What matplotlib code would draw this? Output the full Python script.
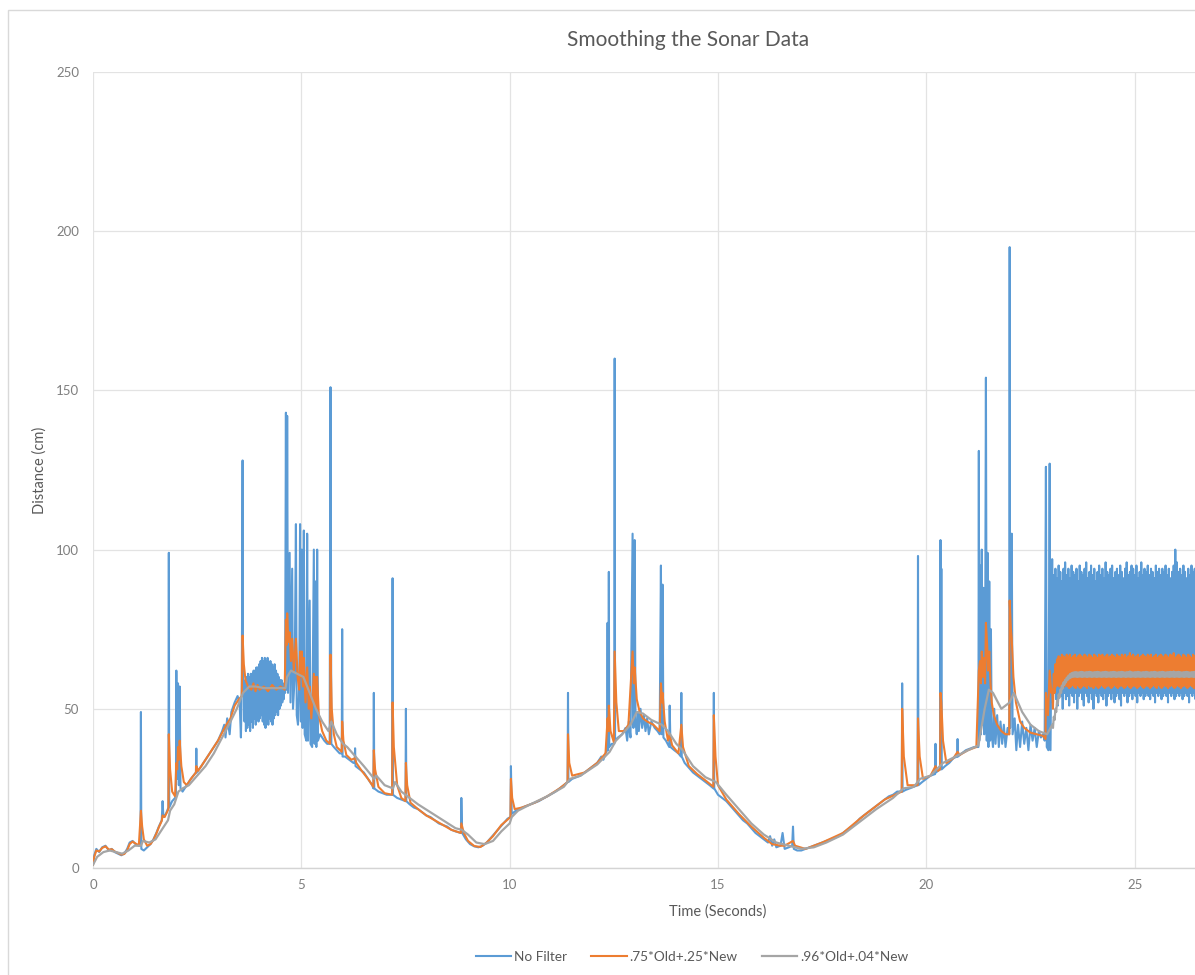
import numpy as np
import matplotlib.pyplot as plt
from matplotlib.patches import Rectangle

plt.rcParams['font.family'] = ['Lato', 'DejaVu Sans']

# ---- values: (time in s, distance in cm) ----
series_names = ['No Filter', '.75*Old+.25*New', '.96*Old+.04*New']

# raw sonar, start up to the first plateau
raw_early = [
    (0.00, 1), (0.03, 4), (0.08, 6), (0.15, 5), (0.22, 6.5), (0.30, 7), (0.38, 5.5),
    (0.45, 6), (0.52, 5), (0.60, 4.5), (0.68, 4), (0.75, 4.5), (0.82, 6), (0.88, 8),
    (0.95, 8.5), (1.02, 7.5), (1.10, 7), (1.14, 7), (1.15, 49), (1.16, 6), (1.22, 5.5),
    (1.30, 6.5), (1.38, 7.5), (1.45, 9), (1.52, 11), (1.58, 13), (1.65, 15), (1.67, 21),
    (1.69, 16), (1.75, 17), (1.81, 19), (1.82, 99), (1.83, 19), (1.90, 21), (1.97, 22),
    (1.99, 23), (2.00, 62), (2.02, 28), (2.04, 58), (2.06, 26), (2.08, 57), (2.10, 25),
    (2.15, 24), (2.25, 26), (2.35, 28), (2.47, 30), (2.48, 37.5), (2.49, 30), (2.60, 32),
    (2.70, 34), (2.80, 36), (2.90, 38), (3.00, 40), (3.10, 43), (3.15, 45), (3.18, 41),
    (3.22, 47), (3.28, 42), (3.32, 49), (3.40, 52), (3.47, 54), (3.52, 52), (3.55, 41),
    (3.57, 56), (3.58, 87), (3.59, 128), (3.60, 58),
]

# raw sonar wobble on the plateau, 3.62 s to 4.61 s, one value per sample
raw_plateau = [58, 46, 59, 43, 60, 44, 61, 45, 60, 43, 61, 46, 61, 44, 62, 47, 62, 45, 63, 48,
               63, 46, 64, 47, 65, 48, 66, 46, 65, 45, 66, 44, 65, 46, 66, 45, 64, 47, 65, 46,
               64, 45, 63, 47, 64, 48, 62, 49, 61, 48, 60, 50, 59, 51, 59, 52, 58, 53, 57, 55]

raw_mid = [
    (4.63, 143), (4.645, 56), (4.66, 142), (4.68, 55), (4.72, 99), (4.74, 52), (4.78, 94),
    (4.80, 50), (4.84, 60), (4.87, 108), (4.89, 48), (4.92, 45), (4.95, 58), (4.97, 108),
    (4.99, 46), (5.01, 100), (5.03, 44), (5.06, 106), (5.08, 42), (5.12, 40), (5.14, 105),
    (5.16, 40), (5.20, 84), (5.22, 39), (5.26, 38), (5.30, 100), (5.32, 39), (5.34, 90),
    (5.36, 38), (5.38, 100), (5.40, 40), (5.45, 42), (5.50, 41), (5.55, 40), (5.62, 39),
    (5.68, 39), (5.70, 151), (5.72, 39), (5.78, 38), (5.85, 37), (5.92, 36), (5.97, 36),
    (5.98, 75), (5.99, 35), (6.05, 35), (6.15, 34), (6.25, 33), (6.28, 33), (6.29, 37.6),
    (6.30, 32), (6.40, 31), (6.50, 30), (6.60, 28), (6.70, 26), (6.73, 25), (6.74, 55),
    (6.75, 25), (6.85, 24), (6.95, 23.5), (7.05, 23), (7.18, 23), (7.19, 91), (7.20, 23),
    (7.30, 22), (7.40, 21.5), (7.50, 21), (7.51, 50), (7.52, 21), (7.60, 20), (7.70, 19),
    (7.80, 18.5), (7.90, 17.5), (8.00, 16.5), (8.10, 16), (8.20, 15), (8.30, 14),
    (8.40, 13.5), (8.50, 13), (8.60, 12), (8.70, 11.5), (8.83, 11), (8.84, 22), (8.86, 11),
    (8.95, 9), (9.05, 7.5), (9.15, 6.8), (9.25, 6.5), (9.35, 7), (9.45, 8), (9.55, 9.5),
    (9.65, 11), (9.75, 12.5), (9.85, 14), (9.95, 15.5), (10.02, 16), (10.03, 32),
    (10.05, 17), (10.15, 18), (10.30, 19), (10.50, 20), (10.70, 21), (10.90, 22.5),
    (11.10, 24), (11.30, 26), (11.39, 27), (11.40, 55), (11.41, 27), (11.50, 28),
    (11.70, 29), (11.90, 31), (12.10, 33), (12.20, 35), (12.25, 34), (12.30, 36),
    (12.34, 37), (12.35, 77), (12.36, 37), (12.37, 38), (12.38, 93), (12.39, 38),
    (12.45, 39), (12.51, 39), (12.52, 160), (12.53, 40), (12.60, 41), (12.70, 42),
    (12.78, 44), (12.82, 40), (12.86, 46), (12.90, 41), (12.95, 105), (12.97, 44),
    (13.00, 103), (13.02, 46), (13.05, 42), (13.08, 49), (13.10, 43), (13.14, 50),
    (13.18, 44), (13.22, 48), (13.26, 43), (13.30, 47), (13.34, 42), (13.40, 46),
    (13.48, 44), (13.55, 43), (13.60, 42), (13.63, 95), (13.65, 42), (13.67, 89),
    (13.69, 41), (13.75, 40), (13.83, 38), (13.84, 51), (13.86, 38), (13.95, 37),
    (14.05, 36), (14.11, 35), (14.12, 55), (14.13, 35), (14.20, 33), (14.30, 31.5),
    (14.40, 30), (14.50, 29), (14.60, 28), (14.70, 27), (14.80, 26), (14.89, 25),
    (14.90, 55), (14.91, 25), (15.00, 23), (15.10, 22), (15.20, 21), (15.30, 19.5),
    (15.40, 18), (15.50, 16.5), (15.60, 15), (15.70, 14), (15.80, 12.5), (15.90, 11),
    (16.00, 10), (16.10, 9), (16.20, 8), (16.25, 10), (16.30, 7), (16.35, 9), (16.40, 6.5),
    (16.50, 7), (16.55, 11), (16.60, 6), (16.70, 6.5), (16.78, 7), (16.80, 13), (16.82, 6),
    (16.90, 5.5), (17.00, 5.5), (17.10, 6), (17.20, 6.5), (17.30, 7), (17.40, 7.5),
    (17.50, 8), (17.60, 8.5), (17.70, 9), (17.80, 9.5), (17.90, 10), (18.00, 11),
    (18.10, 12), (18.20, 13), (18.30, 14), (18.40, 15.5), (18.50, 16.5), (18.60, 17.5),
    (18.70, 18.5), (18.80, 19.5), (18.90, 20.5), (19.00, 21.5), (19.10, 22.5), (19.20, 23),
    (19.30, 24), (19.41, 24), (19.42, 58), (19.43, 24), (19.50, 24.5), (19.60, 25),
    (19.79, 26), (19.80, 98), (19.81, 26), (19.90, 27), (20.00, 28), (20.10, 29),
    (20.21, 29.5), (20.22, 39), (20.23, 30), (20.33, 31), (20.34, 103), (20.35, 31),
    (20.36, 94), (20.37, 31), (20.45, 32), (20.55, 33), (20.65, 34.5), (20.74, 35),
    (20.75, 40.5), (20.76, 35), (20.85, 36), (20.95, 37), (21.05, 37.5), (21.15, 38),
    (21.25, 38), (21.26, 131), (21.27, 40), (21.29, 95), (21.31, 42), (21.33, 100),
    (21.35, 45), (21.37, 88), (21.39, 42), (21.41, 60), (21.43, 154), (21.45, 40),
    (21.47, 99), (21.49, 38), (21.51, 90), (21.53, 40), (21.55, 75), (21.57, 42),
    (21.60, 38), (21.63, 50), (21.66, 39), (21.70, 48), (21.74, 38), (21.78, 46),
    (21.82, 39), (21.86, 45), (21.90, 38), (21.95, 44), (21.99, 42), (22.00, 195),
    (22.01, 44), (22.03, 90), (22.05, 105), (22.07, 42), (22.12, 47), (22.16, 37),
    (22.20, 45), (22.25, 38), (22.30, 46), (22.35, 39), (22.40, 44), (22.45, 37),
    (22.50, 45), (22.55, 40), (22.60, 44), (22.65, 38), (22.70, 43), (22.75, 41),
    (22.80, 42), (22.84, 40), (22.87, 126), (22.89, 38), (22.93, 37), (22.96, 127),
    (22.98, 37),
]

# raw sonar after 23 s: alternating high / low readings
raw_tail_hi = [97, 92, 94, 91, 95, 93, 90, 94, 96, 92,
               94, 91, 95, 93, 92, 94, 90, 95, 93, 92,
               94, 96, 91, 93, 95, 92, 94, 90, 93, 95,
               92, 94, 91, 96, 93, 92, 94, 95, 91, 93,
               94, 92, 95, 93, 91, 94, 96, 92, 93, 95,
               94, 92, 95, 91, 93, 96, 92, 94, 93, 95,
               92, 94, 93, 91, 95, 93, 94, 92, 94, 93,
               95, 92, 94, 91, 93, 95, 100, 96, 93, 94,
               92, 95, 93, 91, 94, 92, 95, 93, 94, 92]
raw_tail_lo = [52, 55, 53, 51, 55, 54, 50, 55, 53, 54,
               51, 55, 54, 52, 55, 50, 54, 55, 53, 51,
               55, 54, 52, 55, 53, 50, 55, 54, 52, 55,
               54, 53, 55, 51, 54, 55, 53, 55, 52, 54,
               55, 53, 51, 55, 54, 55, 52, 54, 55, 53,
               55, 54, 52, 55, 54, 55, 53, 54, 55, 54,
               53, 55, 54, 52, 55, 54, 55, 53, 54, 55,
               54, 52, 55, 54, 55, 53, 54, 55, 54, 55,
               53, 54, 55, 54, 52, 55, 54, 55, 53, 54]

# .75*Old + .25*New
fast_points = [
    (0.00, 1), (0.03, 3.5), (0.08, 5.5), (0.15, 5.2), (0.22, 6.3), (0.30, 6.8), (0.38, 5.8),
    (0.45, 5.9), (0.52, 5.2), (0.60, 4.7), (0.68, 4.2), (0.75, 4.4), (0.82, 5.5), (0.88, 7.5),
    (0.95, 8.3), (1.02, 7.7), (1.10, 7.1), (1.15, 18), (1.18, 13), (1.22, 9), (1.30, 7),
    (1.38, 7.5), (1.45, 8.8), (1.52, 10.8), (1.58, 12.8), (1.65, 14.8), (1.67, 16.5),
    (1.72, 16), (1.81, 18.5), (1.82, 42), (1.85, 31), (1.90, 24), (1.97, 22.5), (2.00, 33),
    (2.02, 31), (2.04, 38), (2.06, 34), (2.08, 40), (2.12, 32), (2.18, 27), (2.25, 26),
    (2.35, 28), (2.47, 30), (2.48, 32), (2.52, 30.5), (2.60, 32), (2.70, 34), (2.80, 36),
    (2.90, 38), (3.00, 40), (3.10, 42.5), (3.20, 45), (3.30, 47), (3.40, 51), (3.50, 53),
    (3.57, 54), (3.59, 73), (3.62, 64), (3.66, 59), (3.72, 57), (3.80, 56), (3.85, 58),
    (3.90, 55.5), (3.95, 57.5), (4.00, 56), (4.10, 57), (4.20, 55.5), (4.30, 57.5),
    (4.40, 56), (4.50, 57), (4.60, 56), (4.63, 78), (4.645, 70), (4.66, 80), (4.69, 71),
    (4.72, 74), (4.75, 65), (4.78, 72), (4.82, 62), (4.87, 72), (4.91, 60), (4.95, 56),
    (4.97, 68), (5.00, 60), (5.01, 68), (5.04, 57), (5.06, 66), (5.10, 52), (5.14, 63),
    (5.18, 50), (5.20, 57), (5.24, 47), (5.30, 61), (5.32, 52), (5.34, 60), (5.36, 50),
    (5.38, 60), (5.42, 48), (5.50, 43), (5.60, 40), (5.69, 39), (5.70, 67), (5.73, 50),
    (5.78, 42), (5.85, 38), (5.97, 36.5), (5.98, 46), (6.01, 40), (6.08, 35.5), (6.20, 34),
    (6.29, 34.5), (6.32, 33), (6.45, 30.5), (6.60, 28), (6.73, 25.5), (6.74, 37), (6.77, 31),
    (6.85, 25.5), (7.00, 23.5), (7.18, 23), (7.19, 52), (7.22, 38), (7.30, 26), (7.40, 22),
    (7.50, 21), (7.51, 33), (7.54, 26), (7.62, 20.5), (7.80, 18.5), (8.00, 16.5), (8.20, 15),
    (8.40, 13.5), (8.60, 12), (8.83, 11), (8.84, 14), (8.90, 11), (9.00, 8.5), (9.15, 6.9),
    (9.30, 6.6), (9.45, 8), (9.60, 10), (9.80, 13.5), (10.02, 16), (10.03, 28), (10.06, 22),
    (10.12, 18.5), (10.30, 19), (10.60, 20.5), (10.90, 22.5), (11.20, 25), (11.39, 27),
    (11.40, 42), (11.43, 33), (11.50, 29), (11.80, 30), (12.10, 33), (12.30, 36),
    (12.35, 47), (12.37, 43), (12.38, 51), (12.42, 43), (12.50, 39.5), (12.52, 68),
    (12.56, 52), (12.62, 43), (12.75, 43), (12.85, 45), (12.95, 68), (12.98, 58),
    (13.00, 63), (13.05, 53), (13.12, 49), (13.20, 47), (13.30, 46), (13.45, 45),
    (13.60, 43), (13.63, 58), (13.66, 52), (13.67, 55), (13.72, 46), (13.80, 40),
    (13.84, 42), (13.90, 38.5), (14.05, 36), (14.12, 45), (14.16, 38), (14.30, 32),
    (14.50, 29.5), (14.70, 27.5), (14.89, 25.5), (14.90, 48), (14.94, 35), (15.00, 26),
    (15.20, 21.5), (15.50, 17), (15.80, 13), (16.10, 9.5), (16.30, 7.5), (16.50, 7),
    (16.60, 7), (16.80, 8.5), (16.85, 7), (17.10, 6), (17.50, 8), (18.00, 11), (18.50, 16.5),
    (19.00, 21.5), (19.41, 24), (19.42, 50), (19.46, 35), (19.55, 26), (19.79, 26),
    (19.80, 47), (19.84, 35), (19.92, 28), (20.10, 29), (20.22, 32), (20.28, 30.5),
    (20.33, 31), (20.34, 55), (20.36, 52), (20.40, 40), (20.48, 33), (20.65, 34.5),
    (20.75, 36.5), (20.80, 35.5), (21.00, 37), (21.20, 38), (21.26, 62), (21.29, 65),
    (21.31, 58), (21.33, 68), (21.36, 60), (21.38, 66), (21.41, 58), (21.43, 77),
    (21.46, 70), (21.48, 62), (21.51, 68), (21.54, 58), (21.57, 52), (21.62, 48),
    (21.70, 45), (21.80, 43), (21.90, 42), (21.99, 42), (22.00, 84), (22.03, 75),
    (22.05, 72), (22.09, 60), (22.15, 52), (22.25, 46), (22.35, 44), (22.50, 42.5),
    (22.65, 42), (22.80, 41.5), (22.86, 40.5), (22.87, 55), (22.92, 48), (22.96, 62),
    (23.00, 55),
]
fast_tail_hi = [56, 61, 64, 65.5, 66.5, 66, 67, 66.5, 66, 67,
                66.5, 67, 66, 66.5, 67, 66, 66.5, 67, 66.5, 66,
                67, 66.5, 66, 67, 66.5, 66, 67, 66.5, 66, 67,
                66.5, 67, 66, 66.5, 67, 66, 66.5, 67, 66.5, 66,
                67, 66.5, 66, 67, 66.5, 67, 66, 66.5, 67.5, 66.5,
                67, 66, 66.5, 67, 66, 66.5, 67, 66.5, 66, 67,
                66.5, 67, 66, 66.5, 67, 66, 66.5, 67, 66.5, 66,
                67, 66.5, 66, 67, 66.5, 67.5, 66, 66.5, 67, 66.5,
                66, 67, 66.5, 66, 67, 66.5, 66, 67, 66.5, 66]
fast_tail_lo = [50, 55, 57, 57.5, 57, 57.5, 56.5, 57, 57.5, 57,
                56.5, 57, 57.5, 57, 56.5, 57.5, 57, 56.5, 57, 57.5,
                57, 56.5, 57.5, 57, 57, 56.5, 57.5, 57, 56.5, 57,
                57.5, 57, 56.5, 57, 57.5, 57, 56.5, 57, 57.5, 57,
                56.5, 57, 57.5, 57, 56.5, 57, 57.5, 57, 56.5, 57,
                57.5, 57, 56.5, 57, 57.5, 57, 56.5, 57, 57.5, 57,
                56.5, 57, 57.5, 57, 56.5, 57.5, 57, 56.5, 57, 57.5,
                57, 56.5, 57, 57.5, 57, 56.5, 57, 57.5, 57, 56.5,
                57, 57.5, 57, 56.5, 57, 57.5, 57, 56.5, 57, 57.5]

# .96*Old + .04*New
slow_points = [
    (0.00, 1), (0.10, 3.5), (0.25, 5), (0.40, 5.5), (0.55, 5), (0.70, 4.5), (0.85, 5.5),
    (1.00, 7), (1.15, 7), (1.20, 8.5), (1.35, 8), (1.50, 9), (1.65, 12), (1.80, 15),
    (1.85, 18), (1.95, 20), (2.05, 24), (2.15, 25), (2.30, 26), (2.50, 29), (2.70, 32),
    (2.90, 36), (3.10, 41), (3.30, 46), (3.45, 50), (3.60, 55), (3.75, 57), (3.90, 57),
    (4.10, 56.5), (4.30, 56.5), (4.50, 56.5), (4.62, 56.5), (4.66, 60), (4.75, 62),
    (4.90, 61), (5.05, 60), (5.20, 55), (5.35, 50), (5.50, 46), (5.65, 43), (5.72, 46),
    (5.85, 42), (6.00, 39), (6.10, 38), (6.30, 35), (6.50, 32), (6.75, 28), (6.80, 29),
    (7.00, 26), (7.20, 25), (7.25, 27), (7.40, 24), (7.55, 22.5), (7.80, 20), (8.10, 17.5),
    (8.40, 15), (8.70, 12.5), (8.85, 12), (9.00, 10.5), (9.20, 8), (9.40, 7.5), (9.60, 8.5),
    (9.80, 11.5), (10.00, 14), (10.05, 16), (10.20, 18), (10.50, 20), (10.90, 22.5),
    (11.30, 25.5), (11.45, 28), (11.70, 29), (12.10, 32.5), (12.40, 36.5), (12.55, 40),
    (12.70, 42), (12.90, 45), (13.05, 49), (13.20, 48.5), (13.40, 46.5), (13.65, 45),
    (13.80, 43), (14.00, 39), (14.15, 37), (14.40, 32), (14.70, 28.5), (14.95, 27),
    (15.20, 23), (15.50, 18.5), (15.80, 14), (16.10, 10.5), (16.40, 8), (16.70, 7),
    (17.00, 6), (17.30, 6.5), (17.60, 8), (18.00, 10.5), (18.40, 14.5), (18.80, 18.5),
    (19.20, 22), (19.45, 25), (19.70, 25.5), (19.85, 28), (20.10, 29), (20.40, 33),
    (20.70, 35), (21.00, 37), (21.25, 38.5), (21.40, 50), (21.50, 56), (21.60, 55),
    (21.80, 50), (22.00, 52), (22.10, 55), (22.30, 49), (22.50, 45), (22.70, 43),
    (22.90, 42),
]
slow_tail_hi = [45, 47.5, 50, 52.5, 54.5, 56, 57.3, 58.3, 59.1, 59.8,
                60.4, 60.9, 61.2, 61.4, 61.5, 61.5, 61.4, 61.5, 61.6, 61.5,
                61.4, 61.5, 61.5, 61.6, 61.5, 61.4, 61.5, 61.5, 61.6, 61.5,
                61.4, 61.5, 61.5, 61.6, 61.5, 61.4, 61.5, 61.5, 61.6, 61.5,
                61.4, 61.5, 61.5, 61.6, 61.5, 61.4, 61.5, 61.5, 61.7, 61.5,
                61.4, 61.5, 61.5, 61.6, 61.5, 61.4, 61.5, 61.5, 61.6, 61.5,
                61.4, 61.5, 61.5, 61.6, 61.5, 61.4, 61.5, 61.5, 61.6, 61.5,
                61.4, 61.5, 61.5, 61.6, 61.5, 61.7, 61.5, 61.5, 61.6, 61.5,
                61.4, 61.5, 61.5, 61.6, 61.5, 61.4, 61.5, 61.5, 61.6, 61.5]
slow_tail_lo = [44, 46.5, 49, 51.5, 53.5, 55, 56.4, 57.5, 58.3, 59,
                59.5, 59.8, 60, 60.1, 60.1, 60, 60.1, 60.1, 60, 60.1,
                60.1, 60, 60.1, 60.1, 60, 60.1, 60.1, 60, 60.1, 60.1,
                60, 60.1, 60.1, 60, 60.1, 60.1, 60, 60.1, 60.1, 60,
                60.1, 60.1, 60, 60.1, 60.1, 60, 60.1, 60.1, 60, 60.1,
                60.1, 60, 60.1, 60.1, 60, 60.1, 60.1, 60, 60.1, 60.1,
                60, 60.1, 60.1, 60, 60.1, 60.1, 60, 60.1, 60.1, 60,
                60.1, 60.1, 60, 60.1, 60.1, 60, 60.1, 60.1, 60, 60.1,
                60.1, 60, 60.1, 60.1, 60, 60.1, 60.1, 60, 60.1, 60.1]


def tail(hi, lo):
    """Alternate high and low readings on the sample grid after 23 s."""
    v = np.column_stack([hi, lo]).ravel()
    t = np.linspace(23.02, 26.5, len(v))
    return t, v


def build(points, tail_hi, tail_lo):
    t = [p[0] for p in points]
    v = [p[1] for p in points]
    tt, tv = tail(tail_hi, tail_lo)
    return np.concatenate([t, tt]), np.concatenate([v, tv])


# raw series: start, plateau wobble, rest, tail
plateau_t = np.linspace(3.62, 4.61, len(raw_plateau))
raw_t = np.concatenate([[p[0] for p in raw_early], plateau_t, [p[0] for p in raw_mid]])
raw_v = np.concatenate([[p[1] for p in raw_early], raw_plateau, [p[1] for p in raw_mid]])
tt, tv = tail(raw_tail_hi, raw_tail_lo)
raw_t = np.concatenate([raw_t, tt])
raw_v = np.concatenate([raw_v, tv])

fast_t, fast_v = build(fast_points, fast_tail_hi, fast_tail_lo)
slow_t, slow_v = build(slow_points, slow_tail_hi, slow_tail_lo)

colors = ['#5B9BD5', '#ED7D31', '#A5A5A5']
text_color = '#595959'
grid_color = '#E3E3E3'

W, H = 1195, 975
fig = plt.figure(figsize=(W / 100, H / 100), dpi=100)

# chart area border (cut off on the right and bottom like the screenshot)
fig.patches.append(Rectangle((8 / W, -0.05), 1.2, 1 - 10 / H + 0.05,
                             transform=fig.transFigure, fill=False,
                             edgecolor='#D9D9D9', linewidth=1.0))

ax = fig.add_axes([93 / W, 107 / H, 1250 / W, 796 / H])
ax.plot(raw_t, raw_v, color=colors[0], lw=1.5, label=series_names[0], zorder=3)
ax.plot(fast_t, fast_v, color=colors[1], lw=1.5, label=series_names[1], zorder=4)
ax.plot(slow_t, slow_v, color=colors[2], lw=1.6, label=series_names[2], zorder=5)

ax.set_xlim(0, 30)
ax.set_ylim(0, 250)
ax.set_xticks(np.arange(0, 30, 5))
ax.set_xticks([30], minor=True)
ax.set_yticks(np.arange(0, 251, 50))
ax.grid(True, which='both', color=grid_color, lw=0.9)
ax.set_axisbelow(True)
for side in ['top', 'right', 'left']:
    ax.spines[side].set_visible(False)
ax.spines['bottom'].set_color('#D4D4D4')
ax.spines['bottom'].set_linewidth(1.0)
ax.tick_params(which='both', length=0, labelsize=9.5, labelcolor='#7F7F7F')
ax.tick_params(axis='x', pad=8)
ax.tick_params(axis='y', pad=10)

ax.set_xlabel('Time (Seconds)', fontsize=10.5, color=text_color, va='center')
ax.xaxis.set_label_coords(0.5, (868 - 912) / 796)
ax.set_ylabel('Distance (cm)', fontsize=10.5, color=text_color, va='center')
ax.yaxis.set_label_coords((40 - 93) / 1250, 0.5)

fig.text(688 / W, 1 - 40 / H, 'Smoothing the Sonar Data', ha='center', va='center',
         fontsize=15, color=text_color)

fig.legend(loc='center', bbox_to_anchor=(692 / W, 1 - 957 / H), ncol=3, frameon=False,
           fontsize=9.8, labelcolor=text_color, handlelength=2.6, handletextpad=0.2,
           columnspacing=1.8)

fig.savefig('out.png', dpi=100)
